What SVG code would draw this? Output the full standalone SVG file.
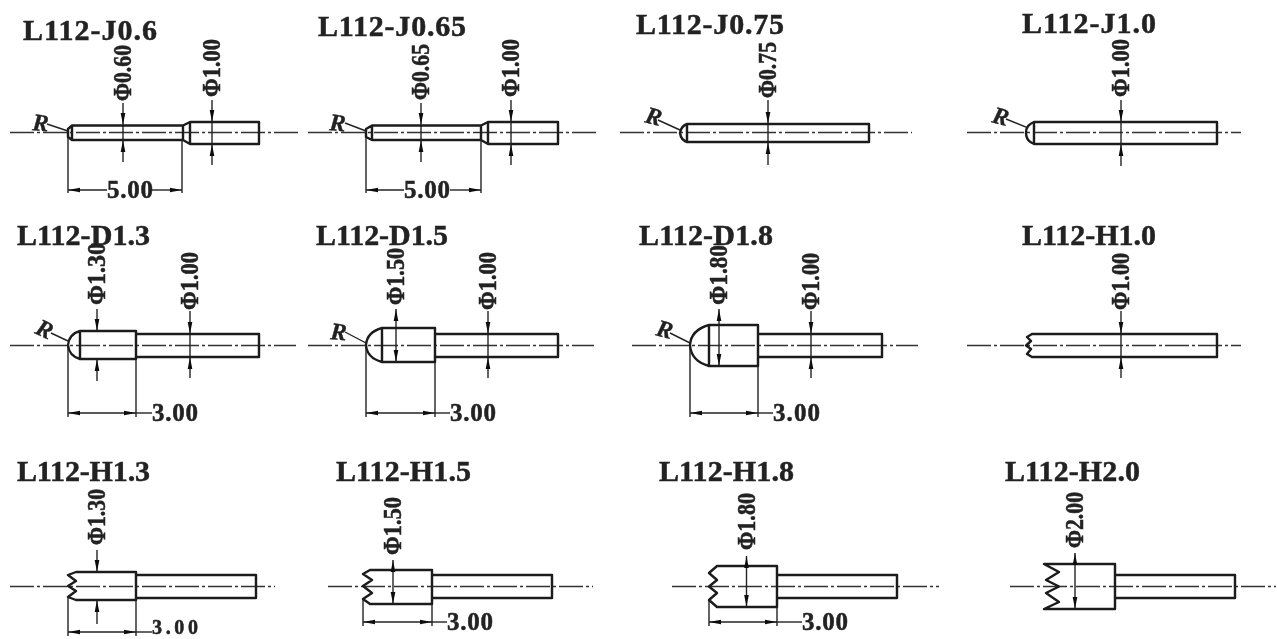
<svg xmlns="http://www.w3.org/2000/svg" width="1277" height="639" viewBox="0 0 1277 639">
<style>
.t{font:bold 30px "Liberation Serif",serif;fill:#222;stroke:#222;stroke-width:.5}
.d{font:bold 25px "Liberation Serif",serif;fill:#222;stroke:#222;stroke-width:.5}
.r{font:italic bold 24px "Liberation Serif",serif;fill:#222;stroke:#222;stroke-width:.4}
.a{fill:none;stroke:#333;stroke-width:1.5;stroke-dasharray:24 3 3 3}
.b{fill:none;stroke:#1a1a1a;stroke-width:2.4;stroke-linejoin:round}
.l{fill:none;stroke:#222;stroke-width:1.4}
.m{marker-end:url(#ar)}
.s{marker-start:url(#as)}
.n{marker-start:url(#as);marker-end:url(#ar)}
</style>
<defs>
<marker id="ar" markerUnits="userSpaceOnUse" markerWidth="13" markerHeight="7" refX="12" refY="3.5" orient="auto"><path d="M0 1.2L12 3.5L0 5.8Z" fill="#111"/></marker>
<marker id="as" markerUnits="userSpaceOnUse" markerWidth="13" markerHeight="7" refX="0" refY="3.5" orient="auto"><path d="M12 1.2L0 3.5L12 5.8Z" fill="#111"/></marker>
<filter id="f" x="0" y="0" width="100%" height="100%"><feGaussianBlur stdDeviation="0.5"/></filter>
</defs>
<rect width="1277" height="639" fill="#fff"/>
<g filter="url(#f)">
<g id="J06">
<text class="t" x="23" y="40" textLength="134">L112-J0.6</text>
<path class="a" d="M10 132.5H298"/>
<path class="b" d="M72 125.5H183L190 122H259V144H190L183 140H72L68 137V129ZM72 125.5V140M183 125.5V140M190 122V144"/>
<path class="l m" d="M123 103V125"/><path class="l m" d="M123 162V140"/><path class="l" d="M123 125V140"/>
<path class="l m" d="M212 100V122"/><path class="l m" d="M212 165V144"/><path class="l" d="M212 122V144"/>
<text class="d" transform="translate(131,101) rotate(-90)" textLength="56" lengthAdjust="spacingAndGlyphs">Φ0.60</text>
<text class="d" transform="translate(220,97) rotate(-90)" textLength="58" lengthAdjust="spacingAndGlyphs">Φ1.00</text>
<text class="r" transform="translate(32,130) rotate(5)">R</text>
<path class="l" d="M47 124L68 131"/>
<path class="l" d="M68 135V193M182 140V193"/>
<path class="l s" d="M68 190H107"/><path class="l m" d="M152 190H182"/>
<text class="d" x="107" y="198" textLength="46">5.00</text>
</g>
<g id="J065">
<text class="t" x="318" y="36" textLength="148">L112-J0.65</text>
<path class="a" d="M308 132.5H596"/>
<path class="b" d="M372 125.5H481L488 122H558V144H488L481 140H372L366 137V129ZM372 125.5V140M481 125.5V140M488 122V144"/>
<path class="l m" d="M421 103V125"/><path class="l m" d="M421 162V140"/><path class="l" d="M421 125V140"/>
<path class="l m" d="M511 100V122"/><path class="l m" d="M511 165V144"/><path class="l" d="M511 122V144"/>
<text class="d" transform="translate(429,100) rotate(-90)" textLength="56" lengthAdjust="spacingAndGlyphs">Φ0.65</text>
<text class="d" transform="translate(519,97) rotate(-90)" textLength="58" lengthAdjust="spacingAndGlyphs">Φ1.00</text>
<text class="r" transform="translate(329,130) rotate(5)">R</text>
<path class="l" d="M345 123L366 131"/>
<path class="l" d="M366 135V193M481 140V193"/>
<path class="l s" d="M366 190H404"/><path class="l m" d="M450 190H481"/>
<text class="d" x="404" y="198" textLength="46">5.00</text>
</g>
<g id="J075">
<text class="t" x="636" y="34" textLength="148">L112-J0.75</text>
<path class="a" d="M620 132.5H912"/>
<path class="b" d="M687 124H869V142H687Q681 140 680 133Q681 126 687 124ZM687 124V142"/>
<path class="l m" d="M768 100V124"/><path class="l m" d="M768 165V142"/><path class="l" d="M768 124V142"/>
<text class="d" transform="translate(776,98) rotate(-90)" textLength="56" lengthAdjust="spacingAndGlyphs">Φ0.75</text>
<text class="r" transform="translate(644,122) rotate(15)">R</text>
<path class="l" d="M658 120L680 130"/>
</g>
<g id="J10">
<text class="t" x="1022" y="33" textLength="134">L112-J1.0</text>
<path class="a" d="M967 132.5H1241"/>
<path class="b" d="M1034 122H1217V144H1034Q1026 141 1026 133Q1026 125 1034 122ZM1034 122V144"/>
<path class="l m" d="M1121 100V122"/><path class="l m" d="M1121 166V144"/><path class="l" d="M1121 122V144"/>
<text class="d" transform="translate(1129,97) rotate(-90)" textLength="58" lengthAdjust="spacingAndGlyphs">Φ1.00</text>
<text class="r" transform="translate(991,122) rotate(15)">R</text>
<path class="l" d="M1006 119L1028 128"/>
</g>
<g id="D13">
<text class="t" x="17" y="245" textLength="133">L112-D1.3</text>
<path class="a" d="M10 345.5H296"/>
<path class="b" d="M80 331H136V359H80Q69 356 68 345Q69 334 80 331ZM80 331V359M136 331V359M136 334H259V357H136"/>
<path class="l m" d="M97 309V331"/><path class="l m" d="M97 381V359"/>
<path class="l m" d="M190 311V334"/><path class="l m" d="M190 378V357"/><path class="l" d="M190 334V357"/>
<text class="d" transform="translate(105,305) rotate(-90)" textLength="62" lengthAdjust="spacingAndGlyphs">Φ1.30</text>
<text class="d" transform="translate(198,310) rotate(-90)" textLength="58" lengthAdjust="spacingAndGlyphs">Φ1.00</text>
<text class="r" transform="translate(34,333) rotate(25)">R</text>
<path class="l" d="M51 333L68 341"/>
<path class="l" d="M68 345V417M136 359V417"/>
<path class="l n" d="M68 413H136"/><path class="l" d="M136 413H152"/>
<text class="d" x="152" y="421" textLength="46">3.00</text>
</g>
<g id="D15">
<text class="t" x="316" y="245" textLength="132">L112-D1.5</text>
<path class="a" d="M308 345.5H594"/>
<path class="b" d="M382 328H435V362H382Q367 358 366 345Q367 332 382 328ZM382 328V362M435 328V362M435 334H558V357H435"/>
<path class="l n" d="M396 309V362"/>
<path class="l m" d="M488 311V334"/><path class="l m" d="M488 378V357"/><path class="l" d="M488 334V357"/>
<text class="d" transform="translate(404,305) rotate(-90)" textLength="57" lengthAdjust="spacingAndGlyphs">Φ1.50</text>
<text class="d" transform="translate(496,310) rotate(-90)" textLength="58" lengthAdjust="spacingAndGlyphs">Φ1.00</text>
<text class="r" transform="translate(330,339) rotate(5)">R</text>
<path class="l" d="M345 332L366 343"/>
<path class="l" d="M366 345V417M435 362V417"/>
<path class="l n" d="M366 413H435"/><path class="l" d="M435 413H450"/>
<text class="d" x="450" y="421" textLength="46">3.00</text>
</g>
<g id="D18">
<text class="t" x="639" y="245" textLength="134">L112-D1.8</text>
<path class="a" d="M632 345.5H918"/>
<path class="b" d="M709 325H758V366H709Q691 361 690 345Q691 330 709 325ZM709 325V366M758 325V366M758 334H882V357H758"/>
<path class="l n" d="M719 309V366"/>
<path class="l m" d="M811 311V334"/><path class="l m" d="M811 378V357"/><path class="l" d="M811 334V357"/>
<text class="d" transform="translate(727,305) rotate(-90)" textLength="60" lengthAdjust="spacingAndGlyphs">Φ1.80</text>
<text class="d" transform="translate(819,310) rotate(-90)" textLength="57" lengthAdjust="spacingAndGlyphs">Φ1.00</text>
<text class="r" transform="translate(655,335) rotate(15)">R</text>
<path class="l" d="M670 333L690 343"/>
<path class="l" d="M690 345V417M758 366V417"/>
<path class="l n" d="M690 413H758"/><path class="l" d="M758 413H773"/>
<text class="d" x="773" y="421" textLength="47">3.00</text>
</g>
<g id="H10">
<text class="t" x="1022" y="245" textLength="134">L112-H1.0</text>
<path class="a" d="M967 345.5H1241"/>
<path class="b" d="M1032 334H1217V357H1032L1027 354L1031 349L1026 345.5L1031 341L1027 337ZM1217 334V357"/>
<path class="l m" d="M1121 311V334"/><path class="l m" d="M1121 378V357"/><path class="l" d="M1121 334V357"/>
<text class="d" transform="translate(1129,310) rotate(-90)" textLength="57" lengthAdjust="spacingAndGlyphs">Φ1.00</text>
</g>
<g id="H13">
<text class="t" x="17" y="481" textLength="133">L112-H1.3</text>
<path class="a" d="M10 586.5H275"/>
<path class="b" d="M76 572H136V600H76L68 597L76 591L68 586L76 581L68 575ZM136 572V600M136 575H256V598H136"/>
<path class="l m" d="M97 550V572"/><path class="l m" d="M97 624V600"/>
<text class="d" transform="translate(105,545) rotate(-90)" textLength="56" lengthAdjust="spacingAndGlyphs">Φ1.30</text>
<path class="l" d="M68 597V636M136 600V636"/>
<path class="l n" d="M68 632H136"/><path class="l" d="M136 632H152"/>
<text class="d" x="152" y="634" textLength="46" style="font-size:20px">3.00</text>
</g>
<g id="H15">
<text class="t" x="336" y="481" textLength="135">L112-H1.5</text>
<path class="a" d="M328 586.5H593"/>
<path class="b" d="M370 570H432V604H370L363 599L372 593L363 586L372 580L363 574ZM432 570V604M432 575H552V598H432"/>
<path class="l n" d="M393 560V604"/>
<text class="d" transform="translate(401,555) rotate(-90)" textLength="58" lengthAdjust="spacingAndGlyphs">Φ1.50</text>
<path class="l" d="M363 600V626M432 604V626"/>
<path class="l n" d="M363 622H432"/><path class="l" d="M432 622H447"/>
<text class="d" x="447" y="630" textLength="46">3.00</text>
</g>
<g id="H18">
<text class="t" x="659" y="481" textLength="135">L112-H1.8</text>
<path class="a" d="M672 586.5H939"/>
<path class="b" d="M717 566H777V607H717L709 600L717 593L709 586.5L717 580L709 573ZM777 566V607M777 575H897V598H777"/>
<path class="l n" d="M746.5 556V607"/>
<text class="d" transform="translate(754.5,550) rotate(-90)" textLength="57" lengthAdjust="spacingAndGlyphs">Φ1.80</text>
<path class="l" d="M709 600V626M777 607V626"/>
<path class="l n" d="M709 622H777"/><path class="l" d="M777 622H802"/>
<text class="d" x="802" y="630" textLength="46">3.00</text>
</g>
<g id="H20">
<text class="t" x="1005" y="481" textLength="135">L112-H2.0</text>
<path class="a" d="M1010 586.5H1276"/>
<path class="b" d="M1044 564H1115V609H1044L1059 602L1046 593L1059 586.5L1046 580L1059 572ZM1115 564V609M1115 575H1235V598H1115"/>
<path class="l n" d="M1075 553V609"/>
<text class="d" transform="translate(1083,548) rotate(-90)" textLength="56" lengthAdjust="spacingAndGlyphs">Φ2.00</text>
</g>
</g>
</svg>
